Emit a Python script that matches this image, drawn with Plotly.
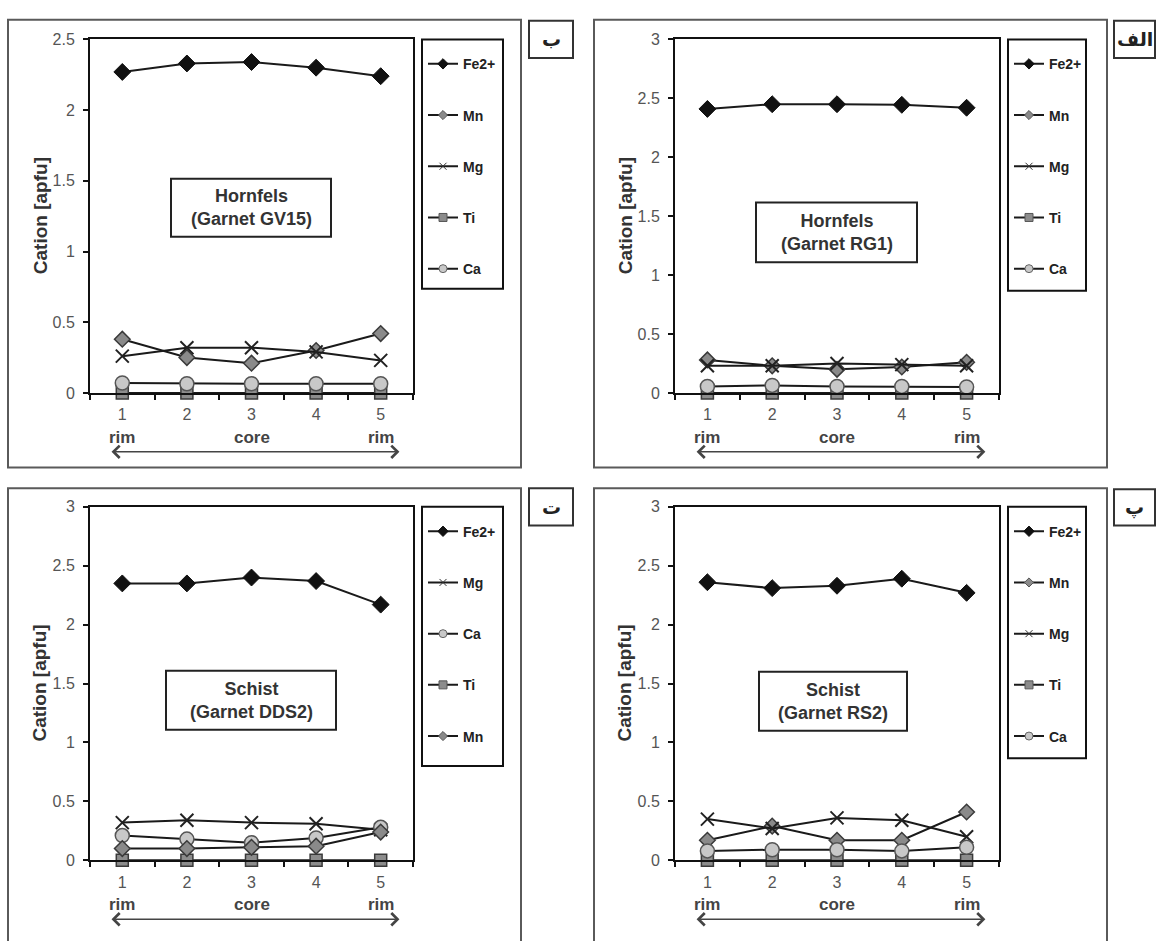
import plotly.graph_objects as go

W, H = 1156, 941

# ---------------- data ----------------
positions = [1, 2, 3, 4, 5]
position_labels = ["1", "2", "3", "4", "5"]
profile_labels = ["rim", "core", "rim"]
profile_positions = [1, 3, 5]

# panel ب : Hornfels (Garnet GV15)
gv15_fe = [2.27, 2.33, 2.34, 2.30, 2.24]
gv15_mn = [0.38, 0.25, 0.21, 0.30, 0.42]
gv15_mg = [0.26, 0.32, 0.32, 0.29, 0.23]
gv15_ti = [0.0, 0.0, 0.0, 0.0, 0.0]
gv15_ca = [0.07, 0.065, 0.065, 0.065, 0.065]

# panel الف : Hornfels (Garnet RG1)
rg1_fe = [2.41, 2.45, 2.45, 2.445, 2.42]
rg1_mn = [0.28, 0.23, 0.20, 0.22, 0.26]
rg1_mg = [0.23, 0.23, 0.25, 0.24, 0.23]
rg1_ti = [0.0, 0.0, 0.0, 0.0, 0.0]
rg1_ca = [0.055, 0.064, 0.055, 0.055, 0.05]

# panel ت : Schist (Garnet DDS2)
dds2_fe = [2.35, 2.35, 2.40, 2.37, 2.17]
dds2_mg = [0.32, 0.34, 0.32, 0.31, 0.26]
dds2_ca = [0.21, 0.18, 0.15, 0.19, 0.28]
dds2_ti = [0.0, 0.0, 0.0, 0.0, 0.0]
dds2_mn = [0.10, 0.10, 0.11, 0.12, 0.24]

# panel پ : Schist (Garnet RS2)
rs2_fe = [2.36, 2.31, 2.33, 2.39, 2.27]
rs2_mn = [0.17, 0.29, 0.17, 0.17, 0.41]
rs2_mg = [0.35, 0.27, 0.36, 0.34, 0.20]
rs2_ti = [0.0, 0.0, 0.0, 0.0, 0.0]
rs2_ca = [0.08, 0.09, 0.09, 0.08, 0.11]

# ---------------- styles ----------------
LINE_COLOR = "#1a1a1a"
MARKERS = {
    "Fe2+": dict(symbol="diamond", size=13, color="#111111", line=dict(color="#111111", width=1)),
    "Mn": dict(symbol="diamond", size=12, color="#8a8a8a", line=dict(color="#3a3a3a", width=1.5)),
    "Mg": dict(symbol="x-thin", size=13, color="#222222", line=dict(color="#222222", width=2)),
    "Ti": dict(symbol="square", size=12, color="#8c8c8c", line=dict(color="#3a3a3a", width=1.5)),
    "Ca": dict(symbol="circle", size=14, color="#c8c8c8", line=dict(color="#555555", width=1.5)),
}
LEGEND_MARKERS = {
    "Fe2+": dict(symbol="diamond", size=8, color="#111111", line=dict(color="#111111", width=1)),
    "Mn": dict(symbol="diamond", size=7, color="#8a8a8a", line=dict(color="#555555", width=1)),
    "Mg": dict(symbol="x-thin", size=7, color="#333333", line=dict(color="#333333", width=1)),
    "Ti": dict(symbol="square", size=8, color="#8c8c8c", line=dict(color="#555555", width=1)),
    "Ca": dict(symbol="circle", size=8, color="#c8c8c8", line=dict(color="#666666", width=1)),
}
FONT = "Liberation Sans, Arial, sans-serif"
AR_FONT = "DejaVu Sans, Noto Sans, sans-serif"


def px_x(p):
    return p / W


def px_y(p):
    return 1 - p / H


panels = [
    dict(tag="ب", title="Hornfels<br>(Garnet GV15)", ymax=2.5,
         series=[("Fe2+", gv15_fe), ("Mn", gv15_mn), ("Mg", gv15_mg), ("Ti", gv15_ti), ("Ca", gv15_ca)],
         plot=(90, 32, 413, 392), legend=(422, 32, 503, 286), frame=(8, 12, 521, 468),
         tagbox=(529, 13, 573, 51), tbox=(171, 174, 331, 233)),
    dict(tag="الف", title="Hornfels<br>(Garnet RG1)", ymax=3.0,
         series=[("Fe2+", rg1_fe), ("Mn", rg1_mn), ("Mg", rg1_mg), ("Ti", rg1_ti), ("Ca", rg1_ca)],
         plot=(675, 32, 999, 392), legend=(1008, 32, 1086, 288), frame=(594, 12, 1107, 468),
         tagbox=(1114, 13, 1155, 51), tbox=(756, 198, 917, 259)),
    dict(tag="ت", title="Schist<br>(Garnet DDS2)", ymax=3.0,
         series=[("Fe2+", dds2_fe), ("Mg", dds2_mg), ("Ca", dds2_ca), ("Ti", dds2_ti), ("Mn", dds2_mn)],
         plot=(90, 508, 413, 868), legend=(422, 508, 503, 772), frame=(8, 489, 521, 960),
         tagbox=(529, 489, 573, 527), tbox=(166, 675, 336, 735)),
    dict(tag="پ", title="Schist<br>(Garnet RS2)", ymax=3.0,
         series=[("Fe2+", rs2_fe), ("Mn", rs2_mn), ("Mg", rs2_mg), ("Ti", rs2_ti), ("Ca", rs2_ca)],
         plot=(675, 508, 999, 868), legend=(1008, 508, 1086, 764), frame=(594, 489, 1107, 960),
         tagbox=(1114, 490, 1155, 527), tbox=(759, 676, 907, 736)),
]

fig = go.Figure()
layout = dict(
    width=W, height=H, margin=dict(l=0, r=0, t=0, b=0),
    paper_bgcolor="white", plot_bgcolor="white", showlegend=True,
    font=dict(family=FONT, color="#333333"),
)
shapes = []
annotations = []

for i, p in enumerate(panels):
    n = "" if i == 0 else str(i + 1)
    xa, ya = "x" + n, "y" + n
    leg = "legend" + n
    x0, y0, x1, y1 = p["plot"]
    for name, vals in p["series"]:
        # line with small markers (this one provides the legend entry)
        fig.add_trace(go.Scatter(
            x=positions, y=vals, name=name, mode="lines+markers",
            line=dict(color=LINE_COLOR, width=2), marker=LEGEND_MARKERS[name],
            xaxis=xa, yaxis=ya, legend=leg, legendgroup=f"{i}-{name}",
            cliponaxis=False,
        ))
        # full-size markers on the plot
        fig.add_trace(go.Scatter(
            x=positions, y=vals, name=name, mode="markers", marker=MARKERS[name],
            xaxis=xa, yaxis=ya, legend=leg, legendgroup=f"{i}-{name}",
            showlegend=False, cliponaxis=False,
        ))
    layout["xaxis" + n] = dict(
        domain=[px_x(x0), px_x(x1)], anchor=ya, range=[0.5, 5.5],
        tickvals=positions, ticktext=position_labels, ticks="", ticklen=0,
        showline=True, mirror=True, linecolor="#111111", linewidth=2,
        showgrid=False, zeroline=False, fixedrange=True,
        tickfont=dict(size=16, color="#555555", family=FONT),
        ticklabelstandoff=6,
        minor=dict(tick0=0.5, dtick=1, ticks="outside", ticklen=5, tickcolor="#111111", tickwidth=1.5),
    )
    layout["yaxis" + n] = dict(
        domain=[px_y(y1), px_y(y0)], anchor=xa, range=[0, p["ymax"]], dtick=0.5,
        ticks="outside", ticklen=5, tickcolor="#111111", tickwidth=1.5,
        showline=True, mirror=True, linecolor="#111111", linewidth=2,
        showgrid=False, zeroline=False, fixedrange=True,
        tickfont=dict(size=16, color="#555555", family=FONT),
        ticklabelstandoff=5,
    )
    lx0, ly0, lx1, ly1 = p["legend"]
    shapes.append(dict(type="rect", xref="paper", yref="paper",
                       x0=px_x(lx0), x1=px_x(lx1), y0=px_y(ly1), y1=px_y(ly0),
                       line=dict(color="#111111", width=2), fillcolor="white", layer="below"))
    layout[leg] = dict(
        x=px_x(lx0 + 1), y=px_y(ly0 + 9), xanchor="left", yanchor="top",
        borderwidth=0, bgcolor="rgba(0,0,0,0)",
        font=dict(size=14, color="#222222", family=FONT, weight="bold"),
        tracegroupgap=30, itemwidth=30, itemsizing="trace",
    )
    # outer panel frame
    fx0, fy0, fx1, fy1 = p["frame"]
    shapes.append(dict(type="rect", xref="paper", yref="paper",
                       x0=px_x(fx0), x1=px_x(fx1), y0=px_y(fy1), y1=px_y(fy0),
                       line=dict(color="#5a5a5a", width=2), layer="below"))
    # panel tag box
    tx0, ty0, tx1, ty1 = p["tagbox"]
    shapes.append(dict(type="rect", xref="paper", yref="paper",
                       x0=px_x(tx0), x1=px_x(tx1), y0=px_y(ty1), y1=px_y(ty0),
                       line=dict(color="#333333", width=2), fillcolor="white"))
    annotations.append(dict(text="<b>" + p["tag"] + "</b>", xref="paper", yref="paper",
                            x=px_x((tx0 + tx1) / 2), y=px_y((ty0 + ty1) / 2),
                            xanchor="center", yanchor="middle", showarrow=False,
                            font=dict(family=AR_FONT, size=19, color="#222222")))
    # sample text box
    bx0, by0, bx1, by1 = p["tbox"]
    shapes.append(dict(type="rect", xref="paper", yref="paper",
                       x0=px_x(bx0), x1=px_x(bx1), y0=px_y(by1), y1=px_y(by0),
                       line=dict(color="#222222", width=2), fillcolor="white"))
    annotations.append(dict(text="<b>" + p["title"] + "</b>", xref="paper", yref="paper",
                            x=px_x((bx0 + bx1) / 2), y=px_y((by0 + by1) / 2),
                            xanchor="center", yanchor="middle", showarrow=False,
                            font=dict(family=FONT, size=18, color="#333333")))
    # y-axis title
    annotations.append(dict(text="<b>Cation [apfu]</b>", xref="paper", yref="paper",
                            x=px_x(x0 - 50), y=px_y((y0 + y1) / 2), textangle=-90,
                            xanchor="center", yanchor="middle", showarrow=False,
                            font=dict(family=FONT, size=19, color="#333333")))
    # rim / core labels
    for lab, pos in zip(profile_labels, profile_positions):
        annotations.append(dict(text="<b>" + lab + "</b>", xref=xa, yref=ya + " domain",
                                x=pos, y=-45 / 360, xanchor="center", yanchor="middle",
                                showarrow=False,
                                font=dict(family=FONT, size=17, color="#444444")))
    # double-headed arrow
    annotations.append(dict(text="", xref=xa, yref=ya + " domain", x=5.29, y=-60 / 360,
                            axref=xa, ax=0.81, ayref="pixel", ay=0,
                            showarrow=True, arrowside="end+start", arrowhead=4, startarrowhead=4,
                            arrowsize=1.6, startarrowsize=1.6, arrowwidth=1.5,
                            arrowcolor="#444444", standoff=0, startstandoff=0))

layout["shapes"] = shapes
layout["annotations"] = annotations
fig.update_layout(**layout)
fig.write_html("out.html", config={"displayModeBar": False},
               post_script="document.body.style.margin='0px';document.body.style.overflow='hidden';")
